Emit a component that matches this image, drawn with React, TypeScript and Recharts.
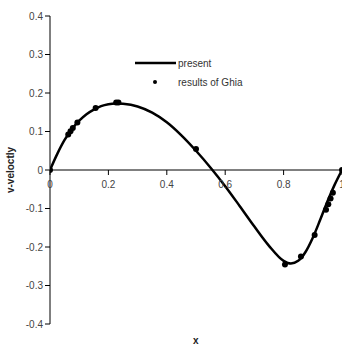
import {
  ComposedChart,
  Line,
  Scatter,
  XAxis,
  YAxis,
  ReferenceLine,
} from "recharts";

// present computation, v along the horizontal centerline
const presentX = [0, 0.025, 0.05, 0.075, 0.1, 0.125, 0.15, 0.175, 0.2, 0.225, 0.25, 0.3, 0.35, 0.4, 0.45, 0.5, 0.55, 0.6, 0.65, 0.7, 0.75, 0.8, 0.825, 0.85, 0.875, 0.9, 0.925, 0.95, 0.975, 1];
const presentV = [0, 0.042, 0.078, 0.106, 0.128, 0.145, 0.157, 0.166, 0.171, 0.173, 0.172, 0.165, 0.149, 0.124, 0.09, 0.05, 0.006, -0.042, -0.094, -0.147, -0.197, -0.236, -0.243, -0.236, -0.213, -0.176, -0.13, -0.082, -0.038, 0];

// Ghia et al. reference points
const ghiaX = [1.0, 0.9688, 0.9609, 0.9531, 0.9453, 0.9063, 0.8594, 0.8047, 0.5, 0.2344, 0.2266, 0.1563, 0.0938, 0.0781, 0.0703, 0.0625, 0.0];
const ghiaV = [0, -0.05906, -0.07391, -0.08864, -0.10313, -0.16914, -0.22445, -0.24533, 0.05454, 0.17527, 0.17507, 0.16077, 0.12317, 0.1089, 0.10091, 0.09233, 0];

const xTicks = [0, 0.2, 0.4, 0.6, 0.8, 1];
const yTicks = [-0.4, -0.3, -0.2, -0.1, 0, 0.1, 0.2, 0.3, 0.4];

const present = presentX.map((x, i) => ({ x, v: presentV[i] }));
const ghia = ghiaX.map((x, i) => ({ x, v: ghiaV[i] }));

const W = 342;
const H = 347;
const TOP = 16;
const XAXIS_H = 23;
// distance from the bottom of the plot up to the v = 0 line
const ZERO_SHIFT = (H - XAXIS_H - TOP) * 0.5;

const font = "'Liberation Sans', Arial, sans-serif";

function XTick(props: any) {
  const { x, y, payload } = props;
  const y0 = y - ZERO_SHIFT;
  return (
    <g>
      <line x1={x} x2={x} y1={y0 - 8} y2={y0 - 3} stroke="#000" strokeWidth={1} />
      <text x={x} y={y0 + 10} textAnchor="middle" fontSize={10} fill="#444" fontFamily={font}>
        {payload.value}
      </text>
    </g>
  );
}

export default function App() {
  return (
    <div style={{ position: "absolute", left: 0, top: 0, width: W, height: H, background: "#fff" }}>
      <ComposedChart
        width={W}
        height={H}
        margin={{ top: TOP, right: 0, bottom: 0, left: 0 }}
      >
        <XAxis
          type="number"
          dataKey="x"
          domain={[0, 1]}
          ticks={xTicks}
          height={XAXIS_H}
          axisLine={false}
          tickLine={false}
          tick={<XTick />}
          interval={0}
          allowDataOverflow
        />
        <YAxis
          type="number"
          dataKey="v"
          domain={[-0.4, 0.4]}
          ticks={yTicks}
          width={50}
          interval={0}
          axisLine={{ stroke: "#000", strokeWidth: 1 }}
          tickLine={{ stroke: "#000" }}
          tickSize={5}
          tick={{ fontSize: 10, fill: "#444", fontFamily: font }}
          tickFormatter={(v: number) => (v === 0 ? "0" : String(Math.round(v * 10) / 10))}
          label={{
            value: "v-veloctly",
            angle: -90,
            position: "insideLeft",
            offset: 10,
            style: { fontSize: 10, fontWeight: "bold", fill: "#222", fontFamily: font, textAnchor: "middle" },
          }}
        />
        <ReferenceLine y={0} stroke="#000" strokeWidth={1} />
        <Line
          data={present}
          dataKey="v"
          type="monotone"
          stroke="#000"
          strokeWidth={2.5}
          dot={false}
          isAnimationActive={false}
        />
        <Scatter
          data={ghia}
          dataKey="v"
          fill="#000"
          shape={(p: any) => <circle cx={p.cx} cy={p.cy} r={3} fill="#000" />}
          isAnimationActive={false}
        />
      </ComposedChart>
      <svg
        width={130}
        height={40}
        style={{ position: "absolute", left: 130, top: 52 }}
        fontFamily={font}
      >
        <line x1={5} x2={46} y1={11} y2={11} stroke="#000" strokeWidth={2.5} />
        <text x={48} y={15} fontSize={10} fill="#333">present</text>
        <circle cx={25} cy={30} r={2} fill="#000" />
        <text x={48} y={34} fontSize={10} fill="#333">results of Ghia</text>
      </svg>
      <div
        style={{
          position: "absolute",
          left: 193,
          top: 335,
          fontSize: 10,
          fontWeight: "bold",
          fontFamily: font,
          color: "#222",
        }}
      >
        x
      </div>
    </div>
  );
}
